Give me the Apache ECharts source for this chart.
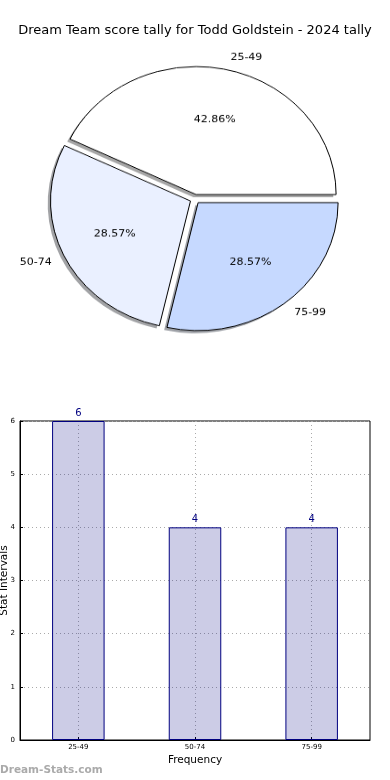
<!DOCTYPE html>
<html>
<head>
<meta charset="utf-8">
<script src="https://cdn.jsdelivr.net/npm/echarts@6/dist/echarts.min.js"></script>
<style>
html,body{margin:0;padding:0;background:#fff;}
#wrap{position:relative;width:390px;height:780px;}
#c{position:absolute;left:0;top:0;width:390px;height:780px;}
#p{position:absolute;left:0;top:0;width:390px;height:400px;transform-origin:195px 199px;transform:scaleY(0.9143);}
</style>
</head>
<body>
<div id="wrap"><div id="c"></div><div id="p"></div></div>
<script>
const titleText = 'Dream Team score tally for Todd Goldstein - 2024 tally';
const categories = ['25-49', '50-74', '75-99'];
const counts = [6, 4, 4];
const yTicks = [0, 1, 2, 3, 4, 5, 6];
const xAxisName = 'Frequency';
const yAxisName = 'Stat Intervals';
const watermark = 'Dream-Stats.com';

const sliceColors = ['#ffffff', '#eaf0ff', '#c6d9ff'];
const FONT = 'DejaVu Sans';
const CX = 195, CY = 199, R = 140, OFF = 5;

function shadowOf(hex) {
  const n = parseInt(hex.slice(1), 16);
  const r = Math.round(((n >> 16) & 255) * 0.3), g = Math.round(((n >> 8) & 255) * 0.3), b = Math.round((n & 255) * 0.3);
  return 'rgba(' + r + ',' + g + ',' + b + ',0.5)';
}

function pieData(kind) {
  return categories.map((c, i) => {
    let col, bw = 0;
    if (kind === 'main') { col = sliceColors[i]; bw = 1; }
    else if (kind === 'shadow') { col = shadowOf(sliceColors[i]); }
    else { col = 'rgba(0,0,0,0)'; }
    const st = { color: col, borderColor: '#000', borderWidth: bw, shadowBlur: 0, shadowColor: 'rgba(0,0,0,0)' };
    return { name: c, value: counts[i], selected: true, itemStyle: st, select: { itemStyle: st } };
  });
}

const pieCommon = {
  type: 'pie',
  startAngle: 0,
  clockwise: false,
  selectedMode: 'multiple',
  selectedOffset: OFF,
  avoidLabelOverlap: false,
  animation: false,
  emphasis: { disabled: true },
  silent: true
};

const pie = echarts.init(document.getElementById('p'), null, { renderer: 'canvas' });
pie.setOption({
  backgroundColor: 'transparent',
  animation: false,
  series: [
    Object.assign({}, pieCommon, {
      name: 'shadow', center: [CX - 2.8, CY + 2.8], radius: [0, R],
      data: pieData('shadow'), label: { show: false }, labelLine: { show: false }
    }),
    Object.assign({}, pieCommon, {
      name: 'pie', center: [CX, CY], radius: [0, R],
      data: pieData('main'), label: { show: false }, labelLine: { show: false }
    }),
    Object.assign({}, pieCommon, {
      name: 'pct', center: [CX, CY], radius: [0.2 * R - 6, R],
      data: pieData('none'),
      label: { show: true, position: 'inside', formatter: '{d}%', fontFamily: FONT, fontSize: 11, color: '#000' },
      labelLine: { show: false }
    }),
    Object.assign({}, pieCommon, {
      name: 'names', center: [CX, CY], radius: [0, R],
      data: pieData('none'),
      label: { show: true, position: 'outside', formatter: '{b}', fontFamily: FONT, fontSize: 11, color: '#000', distanceToLabelLine: 0 },
      labelLine: { show: false, length: 0.1 * R, length2: 0 }
    })
  ]
});

const chart = echarts.init(document.getElementById('c'), null, { renderer: 'canvas' });
chart.setOption({
  backgroundColor: '#fff',
  animation: false,
  title: {
    text: titleText, left: 'center', top: 19,
    textStyle: { fontFamily: FONT, fontSize: 13, fontWeight: 'normal', color: '#000' }
  },
  graphic: [{
    type: 'text', left: 0, top: 765,
    style: { text: watermark, font: 'bold 10.5px "DejaVu Sans"', fill: '#aaaaaa' }
  }],
  grid: {
    left: 20, right: 20, top: 421, bottom: 40, outerBoundsMode: 'none', containLabel: false,
    show: true, borderColor: '#000', borderWidth: 1, backgroundColor: 'transparent'
  },
  xAxis: {
    type: 'category', data: categories,
    name: xAxisName, nameLocation: 'middle', nameGap: 15, nameMoveOverlap: false,
    nameTextStyle: { fontFamily: FONT, fontSize: 10.5, color: '#000', verticalAlign: 'top' },
    axisLine: { show: true, lineStyle: { color: '#000' } },
    axisTick: { show: true, inside: true, length: 3, alignWithLabel: true, lineStyle: { color: '#000' } },
    axisLabel: { fontFamily: FONT, fontSize: 7, color: '#000', margin: 4 },
    splitLine: { show: true, alignWithLabel: true, lineStyle: { color: '#aaa', type: [1, 3], width: 1 } }
  },
  yAxis: {
    type: 'value', min: yTicks[0], max: yTicks[yTicks.length - 1], interval: 1,
    name: yAxisName, nameLocation: 'middle', nameGap: 10, nameMoveOverlap: false,
    nameTextStyle: { fontFamily: FONT, fontSize: 10.5, color: '#000' },
    axisLine: { show: true, lineStyle: { color: '#000' } },
    axisTick: { show: true, inside: true, length: 3, lineStyle: { color: '#000' } },
    axisLabel: { fontFamily: FONT, fontSize: 7, color: '#000', margin: 5 },
    splitLine: { show: true, lineStyle: { color: '#aaa', type: [1, 3], width: 1 } }
  },
  series: [{
    type: 'bar', data: counts, barWidth: '45%',
    itemStyle: { color: 'rgba(0,0,128,0.2)', borderColor: '#000080', borderWidth: 1 },
    label: { show: true, position: 'top', distance: 3, fontFamily: FONT, fontSize: 10, color: '#000080' },
    emphasis: { disabled: true }, silent: true
  }]
});
</script>
</body>
</html>
